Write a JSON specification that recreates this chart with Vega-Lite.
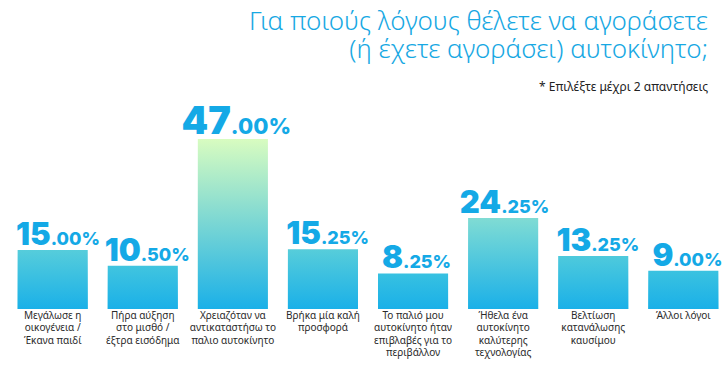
{
  "$schema": "https://vega.github.io/schema/vega-lite/v6.json",
  "width": 720,
  "height": 170,
  "autosize": {"type": "none"},
  "padding": {"left": 8, "top": 139, "right": 0, "bottom": 60},
  "background": "white",
  "config": {"view": {"stroke": null}},
  "title": {
    "text": ["Για ποιούς λόγους θέλετε να αγοράσετε", "(ή έχετε αγοράσει) αυτοκίνητο;"],
    "subtitle": "* Επιλέξτε μέχρι 2 απαντήσεις",
    "anchor": "end",
    "frame": "group",
    "orient": "top",
    "font": "Noto Sans",
    "fontSize": 26,
    "fontWeight": 300,
    "color": "#17a8e3",
    "lineHeight": 28,
    "subtitleFont": "Noto Sans",
    "subtitleFontSize": 12,
    "subtitleColor": "#222222",
    "subtitlePadding": 19,
    "offset": 11,
    "dx": -20
  },
  "data": {
    "values": [
      {"label": "Μεγάλωσε η\nοικογένεια /\nΈκανα παιδί", "value": 15, "whole": "15", "frac": ".00%"},
      {"label": "Πήρα αύξηση\nστο μισθό /\nέξτρα εισόδημα", "value": 10.5, "whole": "10", "frac": ".50%"},
      {"label": "Χρειαζόταν να\nαντικαταστήσω το\nπαλιο αυτοκίνητο", "value": 47, "whole": "47", "frac": ".00%"},
      {"label": "Βρήκα μία καλή\nπροσφορά", "value": 15.25, "whole": "15", "frac": ".25%"},
      {"label": "Το παλιό μου\nαυτοκίνητο ήταν\nεπιβλαβές για το\nπεριβάλλον", "value": 8.25, "whole": "8", "frac": ".25%"},
      {"label": "Ήθελα ένα\nαυτοκίνητο\nκαλύτερης\nτεχνολογίας", "value": 24.25, "whole": "24", "frac": ".25%"},
      {"label": "Βελτίωση\nκατανάλωσης\nκαυσίμου", "value": 13.25, "whole": "13", "frac": ".25%"},
      {"label": "Άλλοι λόγοι", "value": 9, "whole": "9", "frac": ".00%"}
    ]
  },
  "encoding": {
    "x": {
      "field": "label",
      "type": "nominal",
      "sort": null,
      "axis": null,
      "scale": {"paddingInner": 0.222, "paddingOuter": 0.107}
    }
  },
  "layer": [
    {
      "mark": {"type": "bar"},
      "encoding": {
        "y": {"field": "value", "type": "quantitative", "scale": {"domain": [-2, 47], "nice": false, "zero": false}, "axis": null},
        "y2": {"datum": -2},
        "color": {
          "field": "value",
          "type": "quantitative",
          "scale": {"domain": [0, 24.25, 47], "range": ["#1ab0e8", "#80dcd4", "#d8fcc0"]},
          "legend": null
        }
      }
    },
    {
      "mark": {
        "type": "bar",
        "fill": {
          "gradient": "linear",
          "x1": 0, "y1": 0, "x2": 0, "y2": 1,
          "stops": [
            {"offset": 0, "color": "rgba(26,176,232,0)"},
            {"offset": 1, "color": "#1ab0e8"}
          ]
        }
      },
      "encoding": {
        "y": {"field": "value", "type": "quantitative"},
        "y2": {"datum": -2}
      }
    },
    {
      "mark": {
        "type": "text",
        "align": "right",
        "baseline": "alphabetic",
        "dy": -5,
        "dx": {"expr": "length(datum.whole) == 1 ? -10 : -2"},
        "font": "Inter",
        "fontWeight": 900,
        "color": "#14a9e6"
      },
      "encoding": {
        "y": {"field": "value", "type": "quantitative"},
        "text": {"field": "whole", "type": "nominal"},
        "size": {"condition": {"test": "datum.value > 40", "value": 38}, "value": 31}
      }
    },
    {
      "mark": {
        "type": "text",
        "align": "left",
        "baseline": "alphabetic",
        "dy": -5,
        "dx": {"expr": "length(datum.whole) == 1 ? -10 : -2"},
        "font": "Inter",
        "fontWeight": 800,
        "color": "#14a9e6"
      },
      "encoding": {
        "y": {"field": "value", "type": "quantitative"},
        "text": {"field": "frac", "type": "nominal"},
        "size": {"condition": {"test": "datum.value > 40", "value": 22}, "value": 18}
      }
    },
    {
      "mark": {
        "type": "text",
        "align": "center",
        "baseline": "top",
        "lineBreak": "\n",
        "lineHeight": 12.3,
        "dy": 2,
        "font": "Noto Sans",
        "fontSize": 10,
        "color": "#2a2a2a"
      },
      "encoding": {
        "y": {"datum": -2},
        "text": {"field": "label", "type": "nominal"}
      }
    }
  ]
}
